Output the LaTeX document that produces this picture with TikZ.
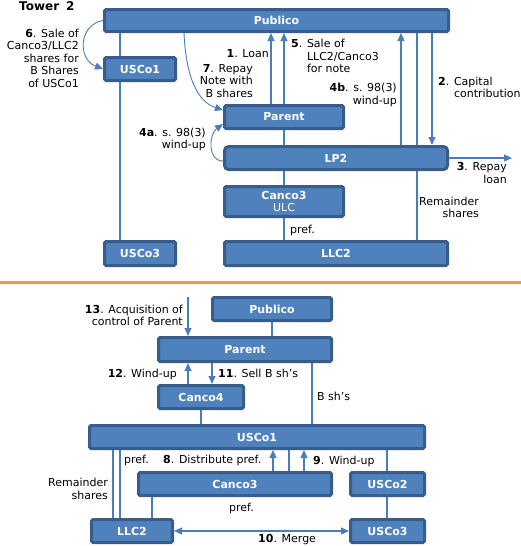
\documentclass[tikz,border=0pt]{standalone}
\usepackage{fontspec}
\setmainfont{DejaVu Sans}
\usetikzlibrary{arrows.meta,calc}
\definecolor{boxfill}{HTML}{4F81BD}
\definecolor{boxdraw}{HTML}{385D8A}
\definecolor{linec}{HTML}{4A7EBB}
\definecolor{sepc}{HTML}{F79646}
\begin{document}
\begin{tikzpicture}[x=1pt,y=-1pt,
  box/.style={draw=boxdraw, fill=boxfill, line width=3pt, rounded corners=1.5pt, inner sep=0pt, text=white, font=\fontsize{11}{12.5}\selectfont\bfseries},
  conn/.style={draw=linec, line width=1.2pt},
  arr/.style={conn, -{Triangle[length=8pt,width=7pt]}},
  curvearr/.style={draw=linec, line width=0.9pt, -{Triangle[length=8pt,width=7pt]}},
  lbl/.style={inner sep=0pt, font=\fontsize{11}{12.5}\selectfont},
]
\useasboundingbox (0,0) rectangle (521,546);

% ---------------- top: Tower 2 ----------------
\node[lbl, anchor=base west, font=\fontsize{12}{14}\selectfont\bfseries] (title) at (19,10) {Tower\hspace{7pt}2};

\node[box, minimum width=344pt, minimum height=22pt] (pubT) at (276.5,20.5) {Publico};
\node[box, minimum width=71pt, minimum height=23pt] (usco1T) at (140,69) {USCo1};
\node[box, minimum width=119pt, minimum height=23pt] (parentT) at (284,117) {Parent};
\node[box, minimum width=223pt, minimum height=23pt, rounded corners=4pt] (lp2) at (336,158) {LP2};
\node[box, minimum width=119pt, minimum height=30pt, align=center] (canco3T) at (284,201.5) {Canco3\\\mdseries ULC};
\node[box, minimum width=71pt, minimum height=24pt] (usco3T) at (140,253.5) {USCo3};
\node[box, minimum width=223pt, minimum height=24pt] (llc2T) at (336,253.5) {LLC2};

\coordinate (xA) at (120,0);
\coordinate (xB) at (184,0);
\coordinate (xL) at (271,0);
\coordinate (xW) at (401,0);
\coordinate (xR) at (417,0);
\coordinate (xK) at (432,0);
\coordinate (out3) at (512,158);

\draw[conn] (pubT.south -| xA) -- (usco1T.north -| xA);
\draw[conn] (usco1T.south -| xA) -- (usco3T.north -| xA);
\draw[curvearr] (pubT.west) .. controls +(-24,4) and +(-26,-10) .. (usco1T.west);
\draw[curvearr] (pubT.south -| xB) .. controls +(2,45) and +(-25,-8) .. ($(parentT.west)+(0,-7)$);
\draw[arr] (parentT.north -| xL) -- (pubT.south -| xL);
\draw[arr] (parentT.north) -- (parentT.north |- pubT.south);
\draw[conn] (parentT.south) -- (parentT.south |- lp2.north);
\draw[curvearr] ($(lp2.west)+(0,3)$) .. controls +(-16,0) and +(-14,10) .. ($(parentT.west)+(0,7)$);
\draw[conn] (lp2.south -| canco3T) -- (canco3T.north);
\draw[conn] (canco3T.south) -- (llc2T.north -| canco3T);
\draw[arr] (lp2.north -| xW) -- (pubT.south -| xW);
\draw[conn] (pubT.south -| xR) -- (lp2.north -| xR);
\draw[conn] (lp2.south -| xR) -- (llc2T.north -| xR);
\draw[arr] (pubT.south -| xK) -- (lp2.north -| xK);
\draw[arr] (lp2.east) -- (out3);

\node[lbl, anchor=base east, align=right] (l6) at (79,87) {\textbf{6}. Sale of\\Canco3/LLC2\\shares for\\B Shares\\of USCo1};
\node[lbl, anchor=base east, align=right] (l1) at (269,57) {\textbf{1}. Loan};
\node[lbl, anchor=base east, align=right] (l7) at (253,97) {\textbf{7}. Repay\\Note with\\B shares};
\node[lbl, anchor=base west, align=left] (l5) at (291,72.5) {\textbf{5}. Sale of\\\hphantom{\textbf{5}. }LLC2/Canco3\\\hphantom{\textbf{5}. }for note};
\node[lbl, anchor=base east, align=right] (l4b) at (397,104) {\textbf{4b}. s. 98(3)\\wind-up};
\node[lbl, anchor=base west, align=left] (l2) at (438,97.5) {\textbf{2}. Capital\\\hphantom{\textbf{2}. }contribution};
\node[lbl, anchor=base east, align=right] (l3) at (507,183) {\textbf{3}. Repay\\loan};
\node[lbl, anchor=base east, align=right] (l4a) at (206,148.5) {\textbf{4a}. s. 98(3)\\wind-up};
\node[lbl, anchor=base east, align=right] (lrem) at (479,217.5) {Remainder\\shares};
\node[lbl, anchor=base west] (lpref) at (290,233) {pref.};

% ---------------- separator ----------------
\coordinate (sepL) at (0,282);
\coordinate (sepR) at (521,282);
\draw[draw=sepc, line width=3pt] (sepL) -- (sepR);

% ---------------- bottom ----------------
\node[box, minimum width=119pt, minimum height=23pt] (pubB) at (272,309) {Publico};
\node[box, minimum width=173pt, minimum height=24pt] (parentB) at (245,349.5) {Parent};
\node[box, minimum width=85pt, minimum height=23pt] (canco4) at (201,397) {Canco4};
\node[box, minimum width=335pt, minimum height=23pt] (usco1B) at (257,437) {USCo1};
\node[box, minimum width=193pt, minimum height=23pt] (canco3B) at (235,484) {Canco3};
\node[box, minimum width=74pt, minimum height=23pt] (usco2) at (387.5,484) {USCo2};
\node[box, minimum width=81pt, minimum height=23pt] (llc2B) at (132,531) {LLC2};
\node[box, minimum width=74pt, minimum height=23pt] (usco3B) at (387.5,531) {USCo3};

\coordinate (x13) at (188,297);
\coordinate (x11) at (212,0);
\coordinate (xBs) at (312,0);
\coordinate (xR1) at (113,0);
\coordinate (xR2) at (120,0);
\coordinate (xP) at (152,0);
\coordinate (x8) at (273,0);
\coordinate (xO) at (289,0);
\coordinate (x9) at (304,0);
\coordinate (xU) at (387,0);

\draw[arr] (x13) -- (x13 |- parentB.north);
\draw[conn] (pubB.south) -- (pubB.south |- parentB.north);
\draw[arr] (canco4.north -| x13) -- (parentB.south -| x13);
\draw[arr] (parentB.south -| x11) -- (canco4.north -| x11);
\draw[conn] (canco4.south) -- (canco4.south |- usco1B.north);
\draw[conn] (parentB.south -| xBs) -- (usco1B.north -| xBs);
\draw[conn] (usco1B.south -| xR1) -- (llc2B.north -| xR1);
\draw[conn] (usco1B.south -| xR2) -- (llc2B.north -| xR2);
\draw[conn] (canco3B.south -| xP) -- (llc2B.north -| xP);
\draw[arr] (canco3B.north -| x8) -- (usco1B.south -| x8);
\draw[conn] (canco3B.north -| xO) -- (usco1B.south -| xO);
\draw[arr] (canco3B.north -| x9) -- (usco1B.south -| x9);
\draw[conn] (usco1B.south -| xU) -- (usco2.north -| xU);
\draw[conn] (usco2.south -| xU) -- (usco3B.north -| xU);
\draw[conn, {Triangle[length=8pt,width=7pt]}-{Triangle[length=8pt,width=7pt]}] (llc2B.east) -- (usco3B.west);

\node[lbl, anchor=base east, align=right] (l13) at (183,325.5) {\textbf{13}. Acquisition of\\control of Parent};
\node[lbl, anchor=base east] (l12) at (177,377.5) {\textbf{12}. Wind-up};
\node[lbl, anchor=base west] (l11) at (218,377.5) {\textbf{11}. Sell B sh’s};
\node[lbl, anchor=base west] (lbs) at (317,400.5) {B sh’s};
\node[lbl, anchor=base east, align=right] (lrem2) at (108,499) {Remainder\\shares};
\node[lbl, anchor=base west] (lpref2) at (124,463) {pref.};
\node[lbl, anchor=base west] (l8) at (163,463) {\textbf{8}. Distribute pref.};
\node[lbl, anchor=base west] (l9) at (313,464) {\textbf{9}. Wind-up};
\node[lbl, anchor=base west] (lpref3) at (229,511) {pref.};
\node[lbl, anchor=base west] (l10) at (258,542.5) {\textbf{10}. Merge};
\end{tikzpicture}
\end{document}
